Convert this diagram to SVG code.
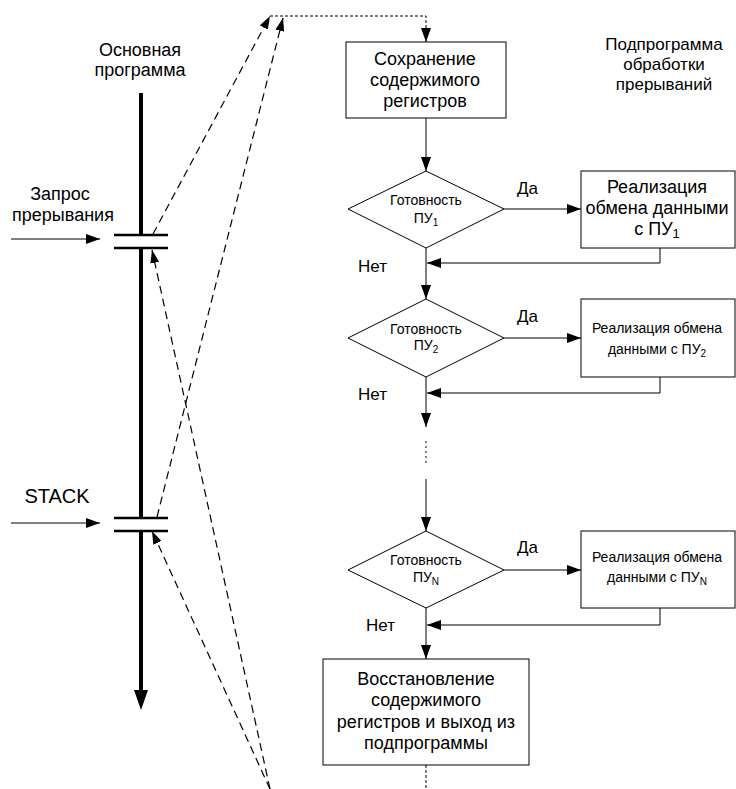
<svg xmlns="http://www.w3.org/2000/svg" width="736" height="789" viewBox="0 0 736 789">
  <defs>
    <marker id="arrow" markerUnits="userSpaceOnUse" markerWidth="14" markerHeight="10" refX="14" refY="5" orient="auto">
      <path d="M0,0 L14,5 L0,10 z" fill="#000" stroke="none"/>
    </marker>
    <marker id="arrow-small" markerUnits="userSpaceOnUse" markerWidth="13" markerHeight="9" refX="13" refY="4.5" orient="auto">
      <path d="M0,0 L13,4.5 L0,9 z" fill="#000" stroke="none"/>
    </marker>
    <style>
      text { font-family: "Liberation Sans", Arial, sans-serif; fill: #000; }
      .big { font-size: 18px; text-anchor: middle; }
      .mid { font-size: 17px; }
      .small { font-size: 14px; text-anchor: middle; }
      .sub { font-size: 10px; }
      .box { fill: #fff; stroke: #000; stroke-width: 1; }
      .line { fill: none; stroke: #000; stroke-width: 1; }
      .flow { fill: none; stroke: #000; stroke-width: 1; marker-end: url(#arrow); }
      .jump { fill: none; stroke: #000; stroke-width: 1.2; stroke-dasharray: 8 5; marker-end: url(#arrow-small); }
      .fine { fill: none; stroke: #000; stroke-width: 1; stroke-dasharray: 3 2; }
      .thick { fill: none; stroke: #000; stroke-width: 4; }
      .bar { fill: none; stroke: #000; stroke-width: 2.5; }
    </style>
  </defs>

  <!-- main program timeline -->
  <g id="main-program">
    <text class="big" x="140" y="56">Основная</text>
    <text class="big" x="140" y="76">программа</text>
    <path class="thick" d="M141,93 V235 M141,248 V518 M141,531 V692"/>
    <polygon points="134,690 148,690 141,710" fill="#000"/>
    <path class="bar" d="M114,235 H168 M114,248 H168 M114,518 H168 M114,531 H168"/>
  </g>

  <g id="interrupt-request">
    <text class="big" x="60" y="200">Запрос</text>
    <text class="big" x="63" y="221">прерывания</text>
  </g>

  <g id="stack">
    <text x="57" y="503" font-size="20" text-anchor="middle">STACK</text>
  </g>

  <g id="isr-title">
    <text class="mid" x="664" y="50" text-anchor="middle">Подпрограмма</text>
    <text class="mid" x="664" y="70" text-anchor="middle">обработки</text>
    <text class="mid" x="664" y="90" text-anchor="middle">прерываний</text>
  </g>

  <!-- interrupt service routine -->
  <g id="save-registers">
    <rect class="box" x="346" y="42" width="160" height="76"/>
    <text class="big" x="425" y="65">Сохранение</text>
    <text class="big" x="425" y="86">содержимого</text>
    <text class="big" x="425" y="107">регистров</text>
  </g>

  <g id="ready-1">
    <polygon class="box" points="426,171 504,209 426,248 348,209"/>
    <text class="small" x="426" y="205">Готовность</text>
    <text class="small" x="426" y="223">ПУ<tspan class="sub" dy="3">1</tspan></text>
  </g>

  <g id="exchange-1">
    <rect class="box" x="581" y="171" width="154" height="77"/>
    <text class="big" x="657" y="193">Реализация</text>
    <text class="big" x="657" y="214">обмена данными</text>
    <text class="big" x="657" y="235">с ПУ<tspan font-size="13" dy="3">1</tspan></text>
  </g>

  <g id="ready-2">
    <polygon class="box" points="426,299 504,338 426,377 348,338"/>
    <text class="small" x="426" y="334">Готовность</text>
    <text class="small" x="426" y="350">ПУ<tspan class="sub" dy="3">2</tspan></text>
  </g>

  <g id="exchange-2">
    <rect class="box" x="581" y="299" width="154" height="78"/>
    <text class="small" x="657" y="333" font-size="14.5">Реализация обмена</text>
    <text class="small" x="657" y="354" font-size="14.5">данными с ПУ<tspan class="sub" dy="3">2</tspan></text>
  </g>

  <g id="ready-n">
    <polygon class="box" points="426,531 504,570 426,608 348,570"/>
    <text class="small" x="426" y="565">Готовность</text>
    <text class="small" x="426" y="582">ПУ<tspan class="sub" dy="3">N</tspan></text>
  </g>

  <g id="exchange-n">
    <rect class="box" x="581" y="531" width="154" height="77"/>
    <text class="small" x="657" y="562" font-size="14.5">Реализация обмена</text>
    <text class="small" x="657" y="582" font-size="14.5">данными с ПУ<tspan class="sub" dy="3">N</tspan></text>
  </g>

  <g id="restore-registers">
    <rect class="box" x="323" y="659" width="206" height="106"/>
    <text class="big" x="426" y="685">Восстановление</text>
    <text class="big" x="426" y="706">содержимого</text>
    <text class="big" x="426" y="728">регистров и выход из</text>
    <text class="big" x="426" y="749">подпрограммы</text>
  </g>

  <!-- connectors -->
  <g id="connectors">
    <!-- external inputs -->
    <path class="flow" d="M11,239 H100"/>
    <path class="flow" d="M11,523 H100"/>

    <!-- flowchart -->
    <path class="flow" d="M426,118 V171"/>
    <path class="flow" d="M504,209 H581"/>
    <path class="flow" d="M660,248 V263 H427"/>
    <path class="flow" d="M426,248 V299"/>
    <path class="flow" d="M504,338 H581"/>
    <path class="flow" d="M660,377 V393 H427"/>
    <path class="flow" d="M426,377 V427"/>
    <path class="line" d="M426,441 V464" stroke-width="1.6" stroke-dasharray="2 3"/>
    <path class="flow" d="M426,479 V531"/>
    <path class="flow" d="M504,570 H581"/>
    <path class="flow" d="M660,608 V625 H427"/>
    <path class="flow" d="M426,608 V659"/>
    <path class="fine" d="M426,765 V789" stroke-dasharray="7 4"/>

    <!-- jumps into and out of the routine -->
    <path class="fine" d="M270,16 H426 V30"/>
    <path d="M426,30 V42" class="flow" stroke-dasharray="3 2"/>
    <path class="jump" d="M153,234 L270,16"/>
    <path class="jump" d="M157,517 L283,18"/>
    <path class="jump" d="M270,789 L152,250"/>
    <path class="jump" d="M270,789 L152,531"/>

    <!-- branch labels -->
    <text class="mid" x="517" y="194">Да</text>
    <text class="mid" x="358" y="272">Нет</text>
    <text class="mid" x="517" y="322">Да</text>
    <text class="mid" x="358" y="400">Нет</text>
    <text class="mid" x="517" y="553">Да</text>
    <text class="mid" x="366" y="631">Нет</text>
  </g>
</svg>
